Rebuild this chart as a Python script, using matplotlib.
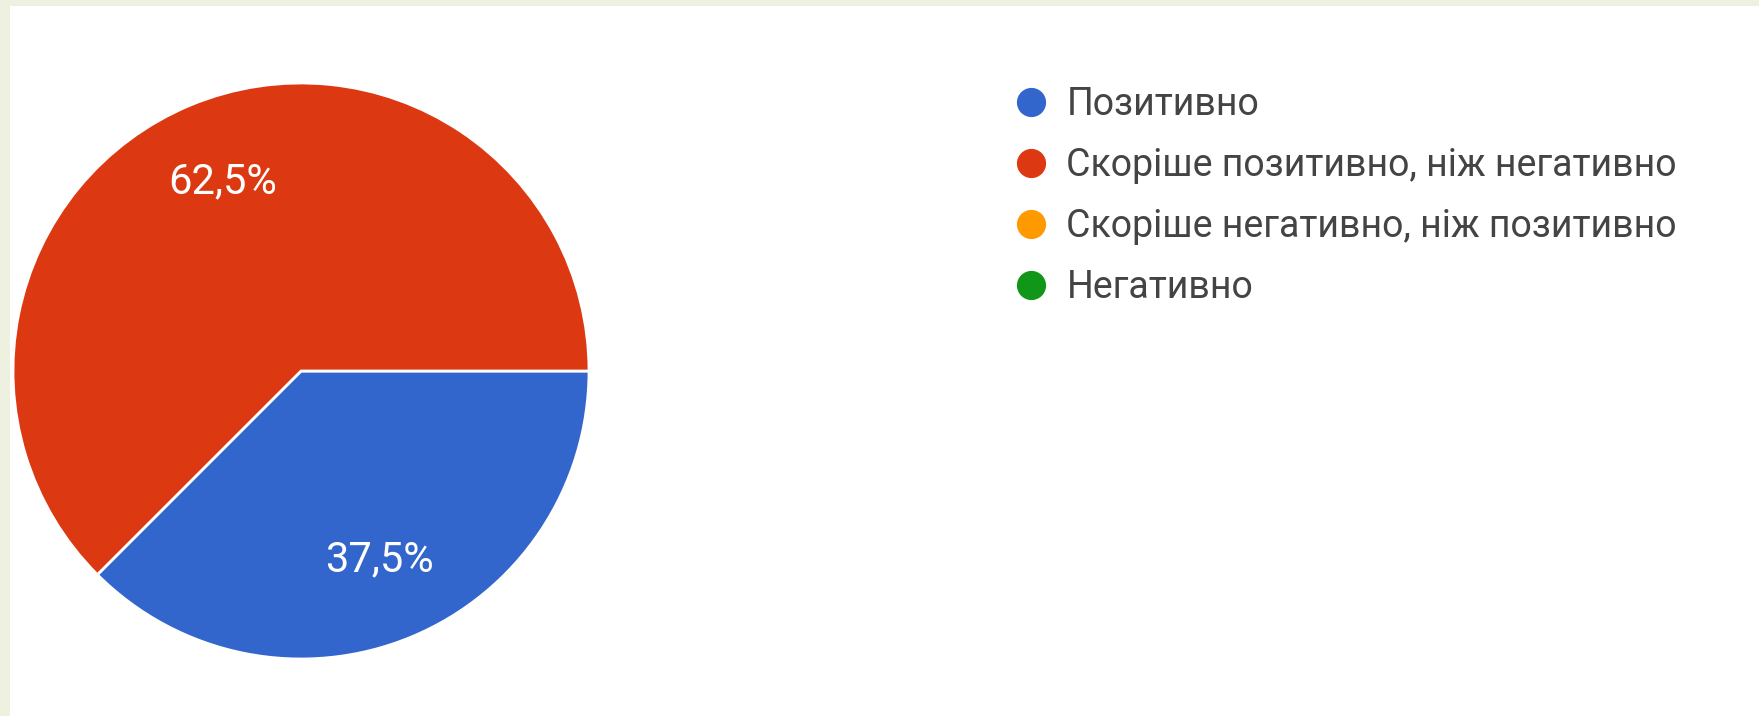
import matplotlib.pyplot as plt
from matplotlib.lines import Line2D
from matplotlib.patches import Rectangle

# дані
categories = ["Позитивно", "Скоріше позитивно, ніж негативно",
              "Скоріше негативно, ніж позитивно", "Негативно"]
values = [37.5, 62.5, 0, 0]
colors = ["#3366cc", "#dc3912", "#ff9900", "#109618"]

plt.rcParams['font.family'] = ['Roboto', 'DejaVu Sans']

W, H = 1759, 716
fig = plt.figure(figsize=(W / 100, H / 100), dpi=100, facecolor="#eef0e0")
# біле поле з зеленуватою рамкою зліва і зверху
fig.patches.append(Rectangle((10 / W, 0), 1, 1 - 6 / H, transform=fig.transFigure,
                             facecolor="white", edgecolor="none", zorder=-1))

cx, cy, r = 301, 371, 288
ax = fig.add_axes([(cx - r) / W, (H - cy - r) / H, 2 * r / W, 2 * r / H])
ax.set_zorder(1)

# малюємо тільки ненульові сектори
pie_vals = [v for v in values if v > 0]
pie_cols = [c for v, c in zip(values, colors) if v > 0]


def fmt(p):
    return f"{p:.1f}%".replace(".", ",")


wedges, texts, autotexts = ax.pie(pie_vals, colors=pie_cols, startangle=0, counterclock=False,
                                  autopct=fmt, pctdistance=0.71,
                                  wedgeprops=dict(edgecolor="white", linewidth=2),
                                  textprops=dict(color="white", fontsize=30))
ax.set_xlim(-1, 1)
ax.set_ylim(-1, 1)
ax.set_aspect("equal")
ax.axis("off")

handles = [Line2D([0], [0], marker="o", linestyle="none", markersize=20,
                  markerfacecolor=c, markeredgecolor=c) for c in colors]
fig.legend(handles, categories, loc="upper left", bbox_to_anchor=(1012 / W, 1 - 86 / H),
           frameon=False, fontsize=27, labelcolor="#444444", handletextpad=0.45,
           labelspacing=0.64, borderaxespad=0, borderpad=0, handlelength=1.0)

fig.savefig("out.png", dpi=100, facecolor=fig.get_facecolor())
